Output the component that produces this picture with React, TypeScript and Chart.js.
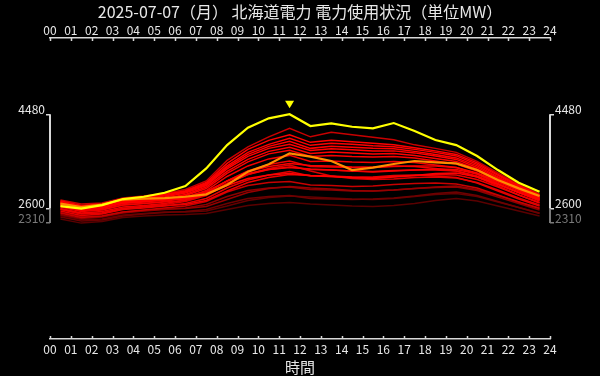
import React, { useEffect, useRef } from 'react';
import { Chart, registerables } from 'chart.js';

Chart.register(...registerables);

const TITLE = '2025-07-07（月） 北海道電力 電力使用状況（単位MW）';
const X_TITLE = '時間';
const HOUR_MIN = 0;
const HOUR_MAX = 24;
const Y_MIN = 0;
const Y_MAX = 6000;

// today's forecast (yellow) and actual (orange), hourly values plotted at hh:30
const TODAY_PEAK_LINE = [2650, 2600, 2670, 2790, 2836, 2916, 3050, 3400, 3866, 4212, 4398, 4480, 4245, 4298, 4231, 4198, 4305, 4145, 3966, 3866, 3647, 3368, 3115, 2936];
const TODAY_ACTUAL = [2700, 2630, 2680, 2780, 2800, 2810, 2836, 2883, 3069, 3335, 3482, 3700, 3634, 3548, 3368, 3415, 3488, 3548, 3521, 3500, 3368, 3169, 3003, 2850];

// past days
const DAY01 = [2390, 2310, 2340, 2420, 2450, 2470, 2480, 2500, 2580, 2660, 2700, 2720, 2690, 2670, 2650, 2640, 2660, 2700, 2760, 2800, 2750, 2650, 2550, 2450];
const DAY02 = [2430, 2350, 2370, 2450, 2490, 2520, 2540, 2580, 2700, 2800, 2840, 2860, 2800, 2790, 2780, 2790, 2810, 2850, 2900, 2930, 2860, 2740, 2620, 2500];
const DAY03 = [2460, 2380, 2390, 2470, 2500, 2530, 2530, 2550, 2650, 2760, 2820, 2850, 2830, 2810, 2790, 2780, 2800, 2840, 2880, 2900, 2840, 2730, 2620, 2510];
const DAY04 = [2480, 2400, 2430, 2510, 2550, 2580, 2610, 2680, 2840, 2960, 3010, 3030, 2980, 2970, 2950, 2950, 2970, 3000, 3020, 3030, 2960, 2830, 2700, 2570];
const DAY05 = [2510, 2420, 2450, 2530, 2570, 2610, 2650, 2740, 2930, 3060, 3120, 3140, 3070, 3060, 3040, 3050, 3080, 3100, 3110, 3090, 3010, 2870, 2730, 2600];
const DAY06 = [2520, 2440, 2450, 2530, 2560, 2590, 2600, 2640, 2780, 2920, 3000, 3040, 3010, 2990, 2960, 2950, 2970, 3000, 3030, 3050, 2980, 2860, 2730, 2610];
const DAY07 = [2550, 2460, 2490, 2580, 2610, 2650, 2700, 2800, 3010, 3170, 3270, 3340, 3250, 3240, 3220, 3230, 3260, 3270, 3250, 3220, 3110, 2950, 2790, 2650];
const DAY08 = [2580, 2490, 2510, 2600, 2640, 2680, 2740, 2860, 3100, 3280, 3400, 3470, 3350, 3250, 3200, 3180, 3190, 3220, 3230, 3210, 3120, 2970, 2810, 2670];
const DAY09 = [2600, 2510, 2540, 2630, 2660, 2700, 2770, 2900, 3150, 3350, 3480, 3550, 3440, 3430, 3420, 3430, 3450, 3440, 3400, 3350, 3230, 3050, 2870, 2710];
const DAY10 = [2590, 2500, 2510, 2600, 2630, 2660, 2680, 2760, 2950, 3120, 3220, 3280, 3260, 3250, 3230, 3220, 3240, 3260, 3280, 3270, 3180, 3030, 2870, 2720];
const DAY11 = [2630, 2540, 2570, 2670, 2700, 2740, 2820, 2960, 3240, 3450, 3590, 3660, 3540, 3550, 3530, 3520, 3540, 3520, 3470, 3420, 3290, 3100, 2920, 2750];
const DAY12 = [2660, 2570, 2600, 2700, 2730, 2780, 2860, 3000, 3300, 3530, 3690, 3760, 3640, 3660, 3640, 3630, 3640, 3610, 3550, 3490, 3350, 3150, 2960, 2780];
const DAY13 = [2680, 2590, 2620, 2720, 2760, 2800, 2880, 3030, 3340, 3580, 3740, 3820, 3700, 3730, 3710, 3690, 3700, 3660, 3600, 3540, 3390, 3180, 2980, 2800];
const DAY14 = [2650, 2560, 2580, 2670, 2700, 2730, 2760, 2880, 3100, 3280, 3380, 3430, 3380, 3370, 3350, 3340, 3360, 3370, 3370, 3350, 3250, 3090, 2920, 2770];
const DAY15 = [2700, 2610, 2640, 2740, 2780, 2830, 2910, 3060, 3390, 3640, 3800, 3880, 3760, 3790, 3770, 3750, 3750, 3710, 3650, 3580, 3420, 3210, 3000, 2820];
const DAY16 = [2720, 2630, 2660, 2760, 2800, 2850, 2930, 3080, 3420, 3680, 3840, 3940, 3800, 3840, 3820, 3800, 3790, 3740, 3680, 3610, 3450, 3230, 3020, 2840];
const DAY17 = [2740, 2650, 2680, 2780, 2820, 2870, 2950, 3100, 3450, 3720, 3880, 4000, 3860, 3900, 3880, 3850, 3830, 3780, 3720, 3650, 3480, 3260, 3040, 2860];
const DAY18 = [2690, 2600, 2620, 2710, 2740, 2770, 2800, 2920, 3150, 3340, 3440, 3500, 3460, 3450, 3430, 3420, 3440, 3450, 3450, 3420, 3310, 3140, 2960, 2800];
const DAY19 = [2770, 2690, 2710, 2810, 2850, 2900, 2980, 3150, 3560, 3830, 4030, 4200, 4030, 4120, 4070, 4020, 3970, 3870, 3800, 3720, 3540, 3310, 3080, 2890];
const DAY20 = [2750, 2660, 2690, 2790, 2830, 2880, 2950, 3120, 3500, 3780, 3960, 4070, 3920, 3960, 3930, 3900, 3870, 3810, 3750, 3680, 3510, 3280, 3060, 2870];
const DAY21 = [2700, 2610, 2630, 2720, 2740, 2770, 2790, 2880, 3060, 3200, 3270, 3300, 3260, 3240, 3220, 3200, 3230, 3260, 3300, 3310, 3230, 3080, 2920, 2780];
const DAY22 = [2720, 2630, 2650, 2740, 2770, 2800, 2830, 2940, 3150, 3300, 3380, 3420, 3390, 3370, 3350, 3330, 3350, 3370, 3390, 3380, 3290, 3130, 2970, 2820];

const PAST_DAYS = [DAY01, DAY02, DAY03, DAY04, DAY05, DAY06, DAY07, DAY08, DAY09, DAY10, DAY11, DAY12, DAY13, DAY14, DAY15, DAY16, DAY17, DAY18, DAY19, DAY20, DAY21, DAY22];
const PAST_SHADES = [90, 110, 100, 140, 200, 150, 230, 220, 240, 235, 245, 250, 255, 240, 255, 255, 255, 250, 200, 255, 255, 245];

const TEXT = '#e8e8e8';
const GRAY = '#7a7a7a';
const AXIS = '#d8d8d8';
const YELLOW = '#ffff00';
const ORANGE = '#ff8c00';
const FONT = "'Noto Sans CJK JP', 'Noto Sans', sans-serif";

const allValues = [...TODAY_PEAK_LINE, ...TODAY_ACTUAL, ...PAST_DAYS.flat()];
const ALL_MIN = Math.min(...allValues);
const PEAK_MIN = Math.min(...TODAY_PEAK_LINE);
const PEAK_MAX = Math.max(...TODAY_PEAK_LINE);
const Y_MARKS = [ALL_MIN, PEAK_MIN, PEAK_MAX];

const toPoints = (arr: number[]) => arr.map((v, i) => ({ x: i + 0.5, y: v }));
const pad2 = (v: number) => String(v).padStart(2, '0');

const framePlugin = {
  id: 'frameAxes',
  afterDraw(chart: any) {
    const { ctx, chartArea, scales } = chart;
    ctx.save();
    const pairs: [any, number][] = [[scales.y, chartArea.left], [scales.y2, chartArea.right]];
    ctx.lineWidth = 2;
    for (const [sc, x] of pairs) {
      ctx.strokeStyle = GRAY;
      ctx.beginPath();
      ctx.moveTo(x, sc.getPixelForValue(ALL_MIN));
      ctx.lineTo(x, sc.getPixelForValue(PEAK_MIN));
      ctx.stroke();
      ctx.strokeStyle = AXIS;
      ctx.beginPath();
      ctx.moveTo(x, sc.getPixelForValue(PEAK_MIN));
      ctx.lineTo(x, sc.getPixelForValue(PEAK_MAX));
      ctx.stroke();
    }
    ctx.strokeStyle = AXIS;
    ctx.lineWidth = 1.5;
    for (const sc of [scales.x, scales.x2]) {
      const top = sc.position === 'top';
      const yl = top ? chartArea.top : chartArea.bottom;
      const dir = top ? 1 : -1;
      for (const t of sc.ticks) {
        const px = Math.round(sc.getPixelForValue(t.value)) + 0.5;
        ctx.beginPath();
        ctx.moveTo(px, yl);
        ctx.lineTo(px, yl + dir * 3);
        ctx.stroke();
      }
    }
    const idx = TODAY_PEAK_LINE.indexOf(PEAK_MAX);
    const px = scales.x.getPixelForValue(idx + 0.5);
    const py = scales.y.getPixelForValue(PEAK_MAX);
    ctx.fillStyle = YELLOW;
    ctx.beginPath();
    ctx.moveTo(px - 4.5, py - 13.5);
    ctx.lineTo(px + 4.5, py - 13.5);
    ctx.lineTo(px, py - 6);
    ctx.closePath();
    ctx.fill();
    ctx.restore();
  },
};

export default function App() {
  const ref = useRef<HTMLCanvasElement | null>(null);
  useEffect(() => {
    if (!ref.current) return;
    Chart.defaults.font.family = FONT;
    const reds = PAST_DAYS.map((d, i) => ({
      data: toPoints(d),
      borderColor: `rgb(${PAST_SHADES[i]},0,0)`,
      borderWidth: 1.5,
      pointRadius: 0,
      order: 1000 - PAST_SHADES[i] * 3 - i,
      xAxisID: 'x',
      yAxisID: 'y',
    }));
    const yTickColor = (c: any) => (c.tick && c.tick.value === ALL_MIN ? GRAY : TEXT);
    const yGridColor = (c: any) => (c.tick && c.tick.value === ALL_MIN ? GRAY : AXIS);
    const yScale = (position: string) => ({
      position,
      min: Y_MIN,
      max: Y_MAX,
      afterFit: (s: any) => { s.width = 50; },
      afterBuildTicks: (s: any) => { s.ticks = Y_MARKS.map((v) => ({ value: v })); },
      grid: { drawOnChartArea: false, drawTicks: true, tickLength: 4, lineWidth: 1.5, color: yGridColor },
      border: { display: false },
      ticks: { autoSkip: false, color: yTickColor, padding: 1, labelOffset: -5, font: { size: 12 }, callback: (v: any) => String(v) },
    });
    const xScale = (position: string) => ({
      type: 'linear',
      position,
      min: HOUR_MIN,
      max: HOUR_MAX,
      afterFit: (s: any) => { s.height = position === 'top' ? 16 : 37; },
      grid: { drawOnChartArea: false, drawTicks: false },
      border: { display: true, color: AXIS, width: 1.5 },
      ticks: { stepSize: 1, autoSkip: false, maxRotation: 0, color: TEXT, padding: position === 'top' ? 2 : 4, font: { size: 12, lineHeight: 1 }, callback: (v: any) => pad2(v) },
      title: position === 'top' ? { display: false } : { display: true, text: X_TITLE, color: TEXT, font: { size: 15, lineHeight: 1.2 }, padding: { top: 0, bottom: 0 } },
    });
    const chart = new Chart(ref.current, {
      type: 'line',
      data: {
        datasets: [
          { data: toPoints(TODAY_PEAK_LINE), borderColor: YELLOW, borderWidth: 2.2, pointRadius: 0, order: 0, xAxisID: 'x', yAxisID: 'y' },
          { data: toPoints(TODAY_ACTUAL), borderColor: ORANGE, borderWidth: 2.2, pointRadius: 0, order: 1, xAxisID: 'x', yAxisID: 'y' },
          ...reds,
        ] as any,
      },
      options: {
        animation: false,
        responsive: true,
        maintainAspectRatio: false,
        devicePixelRatio: 1,
        layout: { padding: 0 },
        plugins: {
          legend: { display: false },
          tooltip: { enabled: false },
          title: { display: true, text: TITLE, color: TEXT, font: { size: 16, weight: 'normal', lineHeight: 1.25 }, padding: { top: 2, bottom: 0 } },
        },
        scales: {
          x: xScale('bottom'),
          x2: xScale('top'),
          y: yScale('left'),
          y2: yScale('right'),
        } as any,
      },
      plugins: [framePlugin],
    });
    return () => chart.destroy();
  }, []);
  return (
    <div style={{ position: 'fixed', left: 0, top: 0, width: 600, height: 376, background: '#000' }}>
      <canvas ref={ref} />
    </div>
  );
}
